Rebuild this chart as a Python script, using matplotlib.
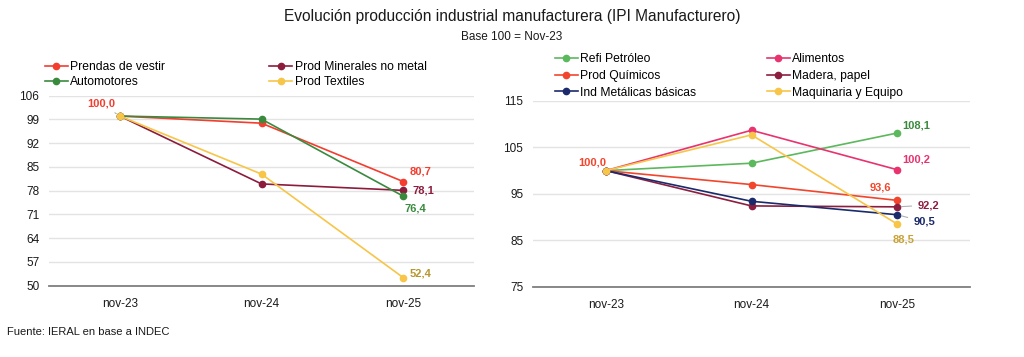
import matplotlib
matplotlib.use("Agg")
import matplotlib.pyplot as plt

plt.rcParams['font.family'] = ['Liberation Sans', 'DejaVu Sans']

periods = ["nov-23", "nov-24", "nov-25"]

# Left panel
prendas = [100.0, 97.9, 80.7]
minerales = [100.0, 80.0, 78.1]
automotores = [100.0, 99.1, 76.4]
textiles = [100.0, 82.9, 52.4]
left_yticks = [50, 57, 64, 71, 78, 85, 92, 99, 106]

# Right panel
refi = [100.0, 101.6, 108.1]
alimentos = [100.0, 108.7, 100.2]
quimicos = [100.0, 97.0, 93.6]
madera = [100.0, 92.4, 92.2]
metalicas = [100.0, 93.4, 90.5]
maquinaria = [100.0, 107.7, 88.5]
right_yticks = [75, 85, 95, 105, 115]

def fmt(v):
    return f"{v:.1f}".replace(".", ",")

fig = plt.figure(figsize=(10.24, 3.57), dpi=100)

fig.text(0.5, 1 - 17/357, "Evolución producción industrial manufacturera (IPI Manufacturero)",
         ha='center', va='center', fontsize=11.2, color='#1a1a1a')
fig.text(0.5, 1 - 37/357, "Base 100 = Nov-23", ha='center', va='center', fontsize=8.5, color='#1a1a1a')
fig.text(7/1024, 1 - 332/357, "Fuente: IERAL en base a INDEC", ha='left', va='center',
         fontsize=8, color='#1a1a1a')

def style_ax(ax, yticks):
    ax.set_ylim(yticks[0], yticks[-1])
    ax.set_yticks(yticks)
    ax.set_xlim(-0.5, 2.5)
    ax.set_xticks(range(len(periods)))
    ax.set_xticklabels(periods)
    for s in ['top', 'right', 'left']:
        ax.spines[s].set_visible(False)
    ax.spines['bottom'].set_color('#7f7f7f')
    ax.spines['bottom'].set_linewidth(1.3)
    ax.grid(axis='y', color='#e3e3e3', linewidth=1.0)
    ax.set_axisbelow(True)
    ax.tick_params(axis='both', length=0, labelsize=8.5, colors='#1a1a1a')
    ax.tick_params(axis='y', pad=7)
    ax.tick_params(axis='x', pad=9)

lw = 1.2
ms = 4.5

# ---- Left axes
axL = fig.add_axes([49/1024, 1 - 285.7/357, 425/1024, 190/357])
x = range(len(periods))
c_pren, c_min, c_auto, c_tex = '#f23d2f', '#8c1c3c', '#3a8a3e', '#f7c548'
hP, = axL.plot(x, prendas, color=c_pren, lw=lw, marker='o', ms=ms, label='Prendas de vestir')
hM, = axL.plot(x, minerales, color=c_min, lw=lw, marker='o', ms=ms, label='Prod Minerales no metal')
hA, = axL.plot(x, automotores, color=c_auto, lw=lw, marker='o', ms=ms, label='Automotores')
hT, = axL.plot(x, textiles, color=c_tex, lw=lw, marker='o', ms=ms, label='Prod Textiles')
style_ax(axL, left_yticks)

def lab(ax, xi, yv, text, color, dx, dy, ha='left', leader=False):
    kw = dict(textcoords='offset points', xytext=(dx, dy), ha=ha, va='center',
              fontsize=8, fontweight='bold', color=color)
    if leader:
        kw['arrowprops'] = dict(arrowstyle='-', color='#b0b0b0', lw=0.8, shrinkA=2, shrinkB=3)
    ax.annotate(text, xy=(xi, yv), **kw)

px = 1/1.389
lab(axL, 0, prendas[0], fmt(prendas[0]), c_pren, -19*px, 12.6*px, ha='center', leader=True)
lab(axL, 2, prendas[2], fmt(prendas[2]), c_pren, 6*px, 10*px)
lab(axL, 2, minerales[2], fmt(minerales[2]), c_min, 9*px, 0)
lab(axL, 2, automotores[2], fmt(automotores[2]), c_auto, 12*px, -12.7*px, ha='center')
lab(axL, 2, textiles[2], fmt(textiles[2]), '#b8962e', 6*px, 4*px)

fig.legend(handles=[hP, hA, hM, hT], loc='upper left',
           bbox_to_anchor=(45/1024, 1 - 61/357), ncol=2, frameon=False,
           fontsize=8.7, handlelength=1.9, handletextpad=0.2, columnspacing=8.6,
           labelspacing=0.28, borderpad=0, borderaxespad=0)

# ---- Right axes
axR = fig.add_axes([533/1024, 1 - 286.7/357, 437/1024, 185.7/357])
c_refi, c_ali, c_qui, c_mad, c_met, c_maq = '#5cb85c', '#e8336e', '#f2452c', '#8c1e40', '#1b2a6b', '#f7c548'
hR, = axR.plot(x, refi, color=c_refi, lw=lw, marker='o', ms=ms, label='Refi Petróleo')
hAl, = axR.plot(x, alimentos, color=c_ali, lw=lw, marker='o', ms=ms, label='Alimentos')
hQ, = axR.plot(x, quimicos, color=c_qui, lw=lw, marker='o', ms=ms, label='Prod Químicos')
hMa, = axR.plot(x, madera, color=c_mad, lw=lw, marker='o', ms=ms, label='Madera, papel')
hMe, = axR.plot(x, metalicas, color=c_met, lw=lw, marker='o', ms=ms, label='Ind Metálicas básicas')
hMq, = axR.plot(x, maquinaria, color=c_maq, lw=lw, marker='o', ms=ms, label='Maquinaria y Equipo')
style_ax(axR, right_yticks)

lab(axR, 0, quimicos[0], fmt(quimicos[0]), c_qui, -14*px, 8.6*px, ha='center')
lab(axR, 2, refi[2], fmt(refi[2]), '#3a8a3e', 5*px, 7.3*px)
lab(axR, 2, alimentos[2], fmt(alimentos[2]), c_ali, 5*px, 10.7*px)
lab(axR, 2, quimicos[2], fmt(quimicos[2]), c_qui, -17*px, 12.7*px, ha='center')
lab(axR, 2, madera[2], fmt(madera[2]), c_mad, 20*px, 1.7*px, leader=True)
lab(axR, 2, metalicas[2], fmt(metalicas[2]), c_met, 16*px, -7*px, leader=True)
lab(axR, 2, maquinaria[2], fmt(maquinaria[2]), '#c9a235', 6*px, -15*px, ha='center')

fig.legend(handles=[hR, hQ, hMe, hAl, hMa, hMq], loc='upper left',
           bbox_to_anchor=(555/1024, 1 - 53.5/357), ncol=2, frameon=False,
           fontsize=8.7, handlelength=1.9, handletextpad=0.2, columnspacing=5.8,
           labelspacing=0.38, borderpad=0, borderaxespad=0)

fig.savefig("out.png", dpi=100)
